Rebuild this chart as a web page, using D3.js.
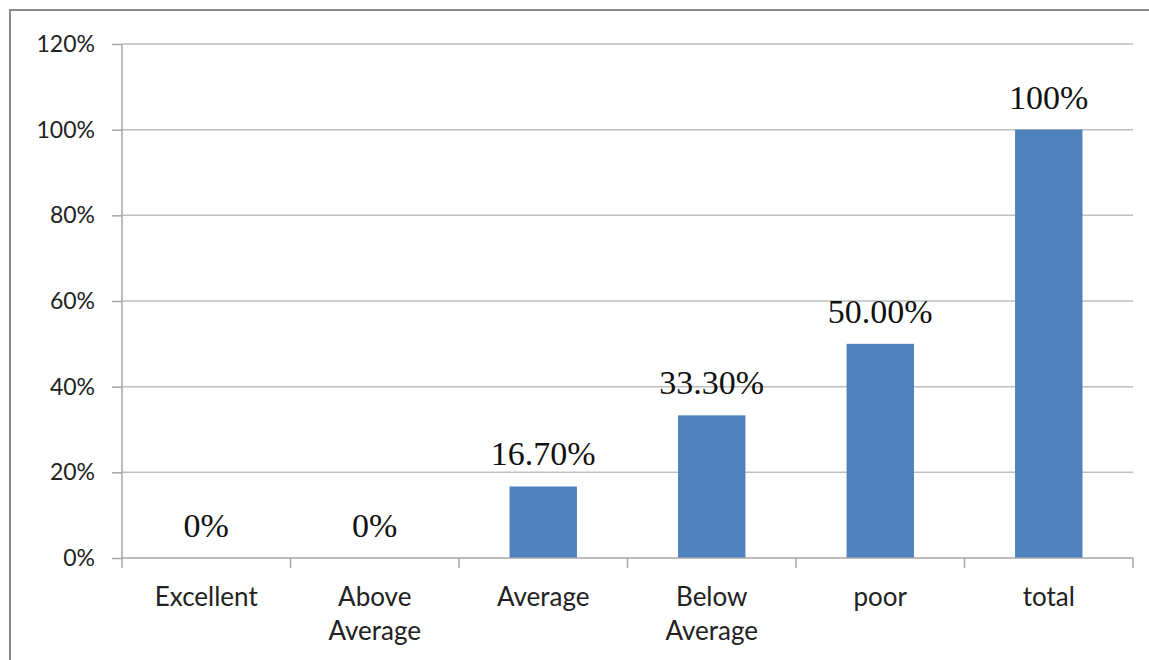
<!DOCTYPE html>
<html><head><meta charset="utf-8">
<script src="https://cdn.jsdelivr.net/npm/d3@7"></script>
<style>html,body{margin:0;padding:0;background:#fff;}</style>
</head><body>
<svg id="c" width="1149" height="660"></svg>
<script>
const categories = [["Excellent"], ["Above", "Average"], ["Average"], ["Below", "Average"], ["poor"], ["total"]];
const values = [0, 0, 0.167, 0.333, 0.50, 1.00];
const valueLabels = ["0%", "0%", "16.70%", "33.30%", "50.00%", "100%"];
const yTicks = [0, 0.2, 0.4, 0.6, 0.8, 1.0, 1.2];

(function() {
const svg = d3.select("#c");
const mLeft = 122, mRight = 1133, mTop = 44, mBottom = 558;

// outer border (image cropped on right/bottom)
svg.append("path").attr("d", "M10,660 L10,10 L1149,10").attr("fill", "none")
  .attr("stroke", "#8a8a8a").attr("stroke-width", 2);

const keys = categories.map(c => c.join(" "));
const x = d3.scaleBand().domain(keys).range([mLeft, mRight]).paddingInner(0.6).paddingOuter(0.3);
const y = d3.scaleLinear().domain([0, 1.2]).range([mBottom, mTop]);

// gridlines
svg.append("g").selectAll("line").data(yTicks.slice(1)).join("line")
  .attr("x1", mLeft).attr("x2", mRight).attr("y1", d => y(d)).attr("y2", d => y(d))
  .attr("stroke", "#bfbfbf").attr("stroke-width", 1.5);

// y axis
const yAxis = svg.append("g").attr("transform", `translate(${mLeft},0)`)
  .call(d3.axisLeft(y).tickValues(yTicks).tickFormat(d3.format(".0%")).tickSize(10).tickPadding(17));
yAxis.select(".domain").attr("stroke", "#a6a6a6").attr("stroke-width", 1.5).attr("d", `M0,${mTop}V${mBottom}`);
yAxis.selectAll(".tick line").attr("stroke", "#a6a6a6").attr("stroke-width", 1.5);
yAxis.selectAll("text").attr("font-family", "Lato, 'Open Sans', sans-serif").attr("font-size", 23).attr("fill", "#222");

// bars
svg.append("g").selectAll("rect").data(values).join("rect")
  .attr("x", (d, i) => x(keys[i])).attr("width", x.bandwidth())
  .attr("y", d => y(d)).attr("height", d => y(0) - y(d))
  .attr("fill", "#4f81bd");

// x axis
const step = x.step();
const bounds = d3.range(keys.length + 1).map(i => mLeft + i * step);
svg.append("line").attr("x1", mLeft).attr("x2", mRight).attr("y1", mBottom).attr("y2", mBottom)
  .attr("stroke", "#a6a6a6").attr("stroke-width", 1.5);
svg.append("g").selectAll("line").data(bounds).join("line")
  .attr("x1", d => d).attr("x2", d => d).attr("y1", mBottom).attr("y2", mBottom + 10)
  .attr("stroke", "#a6a6a6").attr("stroke-width", 1.5);

// x labels
const xl = svg.append("g").selectAll("text").data(categories).join("text")
  .attr("x", (d, i) => x(keys[i]) + x.bandwidth() / 2)
  .attr("y", 606)
  .attr("text-anchor", "middle")
  .attr("font-family", "Lato, 'Open Sans', sans-serif").attr("font-size", 26).attr("fill", "#222");
xl.each(function(d) {
  const t = d3.select(this);
  d.forEach((line, j) => t.append("tspan").attr("x", t.attr("x")).attr("dy", j === 0 ? 0 : 34).text(line));
});

// data labels
svg.append("g").selectAll("text").data(values).join("text")
  .attr("x", (d, i) => x(keys[i]) + x.bandwidth() / 2)
  .attr("y", d => y(d) - 21)
  .attr("text-anchor", "middle")
  .attr("font-family", "'Liberation Serif', 'Times New Roman', serif").attr("font-size", 34).attr("fill", "#111")
  .text((d, i) => valueLabels[i]);
})();
</script>
</body></html>
